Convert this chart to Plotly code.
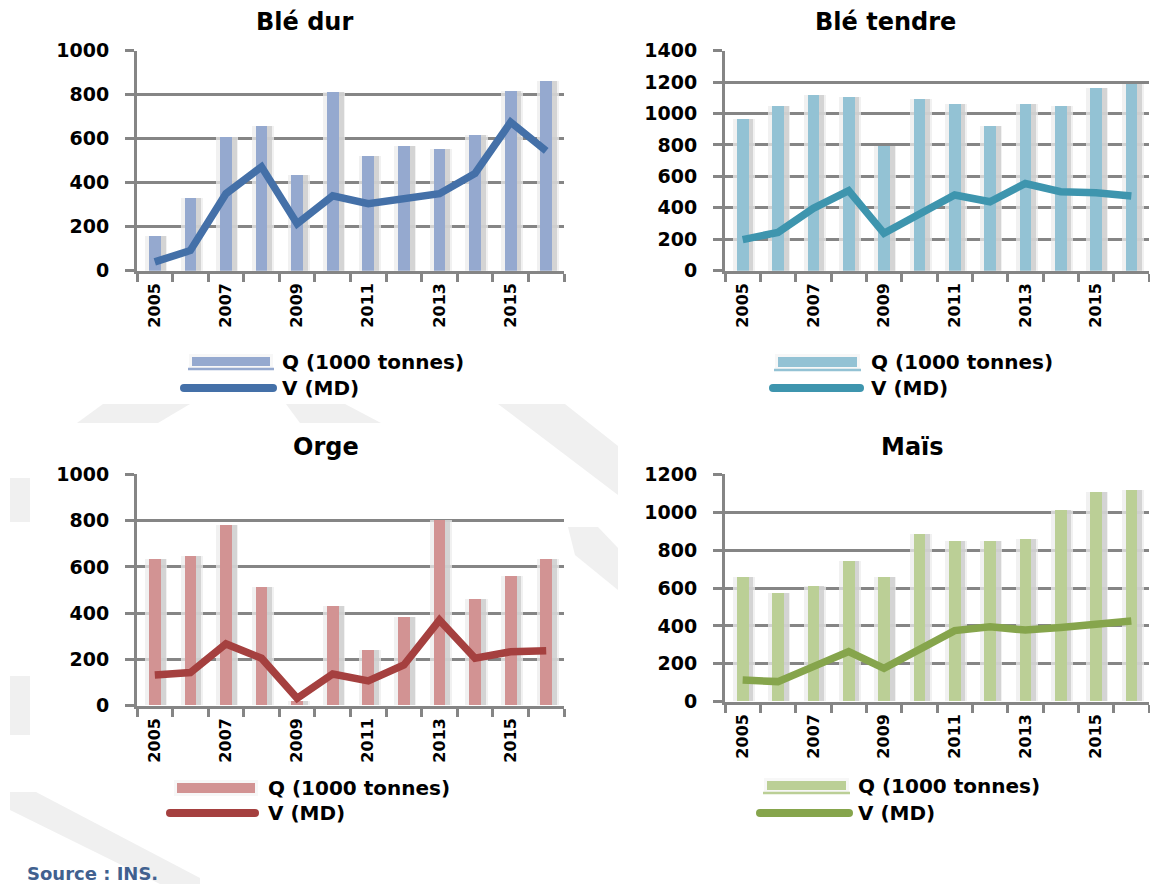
import plotly.graph_objects as go

# ---------------------------------------------------------------- data
years = list(range(2005, 2017))
year_ticks = [2005, 2007, 2009, 2011, 2013, 2015]
year_tick_text = [str(y) for y in year_ticks]

titles = ["Blé dur", "Blé tendre", "Orge", "Maïs"]
q_label = "Q (1000 tonnes)"
v_label = "V (MD)"

ble_dur_q = [158, 330, 608, 657, 435, 812, 525, 566, 553, 617, 820, 862]
ble_dur_v = [40, 92, 350, 472, 214, 340, 305, 324, 350, 442, 675, 545]

ble_tendre_q = [965, 1048, 1118, 1105, 793, 1092, 1061, 921, 1061, 1048, 1163, 1188]
ble_tendre_v = [198, 244, 397, 509, 238, 354, 482, 439, 555, 503, 496, 475]

orge_q = [634, 644, 781, 510, 20, 431, 238, 382, 800, 460, 558, 634]
orge_v = [133, 143, 267, 205, 32, 137, 107, 176, 370, 205, 233, 238]

mais_q = [658, 574, 611, 743, 658, 885, 848, 848, 859, 1012, 1107, 1117]
mais_v = [114, 106, 185, 264, 176, 273, 375, 396, 378, 392, 410, 426]

y_max = [1000, 1400, 1000, 1200]

# ---------------------------------------------------------------- style
W, H = 1150, 884
FONT = "DejaVu Sans"
GRID = "#858585"
bar_colors = ["#95A9CF", "#93C2D4", "#D29393", "#BBCF96"]
line_colors = ["#4470A8", "#3E95AE", "#A5403F", "#86A54C"]


def px(x):
    return x / W


def py(y):
    return 1 - y / H


# plot-area rectangles in pixels: (left, right, top, bottom)
boxes = [
    (137, 564, 50.7, 270.7),
    (725, 1149, 50.7, 270.7),
    (137, 564, 474.3, 705.7),
    (725, 1149, 474.3, 701.7),
]
title_pos = [(304, 22), (885, 22), (326, 447), (912, 447)]
# legend geometry: q swatch box, underline?, q text x/y, v line x0/x1/y
legend_geo = [
    dict(q=(192, 357, 270, 366), ul=True, qt=(280, 362), v=(180, 277, 388), vt=280),
    dict(q=(778, 357, 857, 367), ul=True, qt=(869, 362), v=(769, 864, 388), vt=869),
    dict(q=(177, 783, 255, 793), ul=False, qt=(266, 788), v=(166, 259, 813), vt=266),
    dict(q=(767, 781, 846, 790), ul=True, qt=(856, 786), v=(756, 853, 813), vt=856),
]

series = [
    (ble_dur_q, ble_dur_v),
    (ble_tendre_q, ble_tendre_v),
    (orge_q, orge_v),
    (mais_q, mais_v),
]

boundaries = [y - 0.5 for y in years] + [years[-1] + 0.5]

fig = go.Figure()
shapes = []
annotations = []

# faint background watermark
watermark = [
    [(77, 423), (103, 404), (190, 404), (158, 423)],
    [(286, 404), (345, 404), (381, 423), (300, 423)],
    [(498, 404), (565, 404), (618, 446), (618, 495)],
    [(568, 527), (598, 527), (618, 548), (618, 590), (575, 555)],
    [(10, 478), (30, 478), (30, 522), (10, 522)],
    [(10, 676), (30, 676), (30, 735), (10, 735)],
    [(10, 792), (36, 792), (200, 878), (200, 884), (160, 884), (10, 810)],
]
for poly in watermark:
    path = "M " + " L ".join(f"{px(x):.5f},{py(y):.5f}" for x, y in poly) + " Z"
    shapes.append(dict(type="path", xref="paper", yref="paper", path=path,
                       fillcolor="#f0f0f0", line=dict(width=0), layer="below"))

for i, ((q, v), (l, r, t, b)) in enumerate(zip(series, boxes)):
    n = "" if i == 0 else str(i + 1)
    xa, ya = "x" + n, "y" + n

    # soft glow and side shadow behind each column
    fig.add_trace(go.Bar(x=years, y=q, xaxis=xa, yaxis=ya, width=0.62, offset=-0.27,
                         marker=dict(color="rgba(236,236,236,0.75)", line=dict(width=0)),
                         hoverinfo="skip", showlegend=False))
    fig.add_trace(go.Bar(x=years, y=q, xaxis=xa, yaxis=ya, width=0.14, offset=0.165,
                         marker=dict(color="rgba(205,205,205,0.8)", line=dict(width=0)),
                         hoverinfo="skip", showlegend=False))
    # quantity columns
    fig.add_trace(go.Bar(x=years, y=q, xaxis=xa, yaxis=ya, width=0.33, offset=-0.165,
                         marker=dict(color=bar_colors[i], line=dict(width=0)),
                         name=q_label, showlegend=False))
    # value line
    fig.add_trace(go.Scatter(x=years, y=v, xaxis=xa, yaxis=ya, mode="lines",
                             line=dict(color=line_colors[i], width=7.5),
                             name=v_label, showlegend=False))

    fig.layout["xaxis" + n] = dict(
        domain=[px(l), px(r)], anchor=ya, range=[years[0] - 0.5, years[-1] + 0.5],
        tickmode="array", tickvals=year_ticks, ticktext=year_tick_text,
        tickangle=-90, ticks="", ticklabelstandoff=3, automargin=False,
        tickfont=dict(family=FONT, size=16, color="black", weight="bold"),
        showline=True, linecolor=GRID, linewidth=3, showgrid=False, zeroline=False,
        minor=dict(tickmode="array", tickvals=boundaries, ticks="outside",
                   ticklen=8, tickwidth=2.5, tickcolor=GRID, showgrid=False),
        fixedrange=True,
    )
    fig.layout["yaxis" + n] = dict(
        domain=[py(b), py(t)], anchor=xa, range=[0, y_max[i]], dtick=200,
        tickmode="linear", tick0=0, automargin=False,
        showgrid=True, gridcolor=GRID, gridwidth=2.5,
        showline=True, linecolor=GRID, linewidth=3, zeroline=False,
        ticks="outside", ticklen=9, tickwidth=2.5, tickcolor=GRID,
        ticklabelstandoff=12,
        tickfont=dict(family=FONT, size=19, color="black", weight="bold"),
        fixedrange=True,
    )

    # panel title
    tx, ty = title_pos[i]
    annotations.append(dict(x=px(tx), y=py(ty), xref="paper", yref="paper",
                            text=titles[i], showarrow=False, xanchor="center", yanchor="middle",
                            font=dict(family=FONT, size=24, color="black", weight="bold")))

    # legend
    g = legend_geo[i]
    x0, y0, x1, y1 = g["q"]
    shapes.append(dict(type="rect", xref="paper", yref="paper",
                       x0=px(x0 - 3), x1=px(x1 + 3), y0=py(y0 - 3), y1=py(y1 + 3),
                       fillcolor="#f7f7f7", line=dict(width=0)))
    shapes.append(dict(type="rect", xref="paper", yref="paper",
                       x0=px(x0), x1=px(x1), y0=py(y0), y1=py(y1),
                       fillcolor=bar_colors[i], line=dict(width=0)))
    if g["ul"]:
        shapes.append(dict(type="line", xref="paper", yref="paper",
                           x0=px(x0 - 4), x1=px(x1 + 4), y0=py(y1 + 3), y1=py(y1 + 3),
                           line=dict(color=bar_colors[i], width=2.5)))
    annotations.append(dict(x=px(g["qt"][0]), y=py(g["qt"][1]), xref="paper", yref="paper",
                            text=q_label, showarrow=False, xanchor="left", yanchor="middle",
                            font=dict(family=FONT, size=20, color="black", weight="bold")))
    vx0, vx1, vy = g["v"]
    shapes.append(dict(type="line", xref="paper", yref="paper",
                       x0=px(vx0 + 4), x1=px(vx1 - 4), y0=py(vy), y1=py(vy),
                       line=dict(color=line_colors[i], width=8)))
    for cx in (vx0 + 4, vx1 - 4):
        shapes.append(dict(type="circle", xref="paper", yref="paper",
                           x0=px(cx - 4), x1=px(cx + 4), y0=py(vy - 4), y1=py(vy + 4),
                           fillcolor=line_colors[i], line=dict(width=0)))
    annotations.append(dict(x=px(g["vt"]), y=py(vy), xref="paper", yref="paper",
                            text=v_label, showarrow=False, xanchor="left", yanchor="middle",
                            font=dict(family=FONT, size=20, color="black", weight="bold")))

annotations.append(dict(x=px(25), y=py(873), xref="paper", yref="paper",
                        text="Source : INS.", showarrow=False, xanchor="left", yanchor="middle",
                        font=dict(family=FONT, size=18, color="#41618F", weight="bold")))

fig.update_layout(
    width=W, height=H, margin=dict(l=0, r=0, t=0, b=0, pad=0, autoexpand=False),
    paper_bgcolor="white", plot_bgcolor="white",
    barmode="overlay", bargap=0, showlegend=False,
    shapes=shapes, annotations=annotations,
)

fig.write_html("out.html", config={"displayModeBar": False})
